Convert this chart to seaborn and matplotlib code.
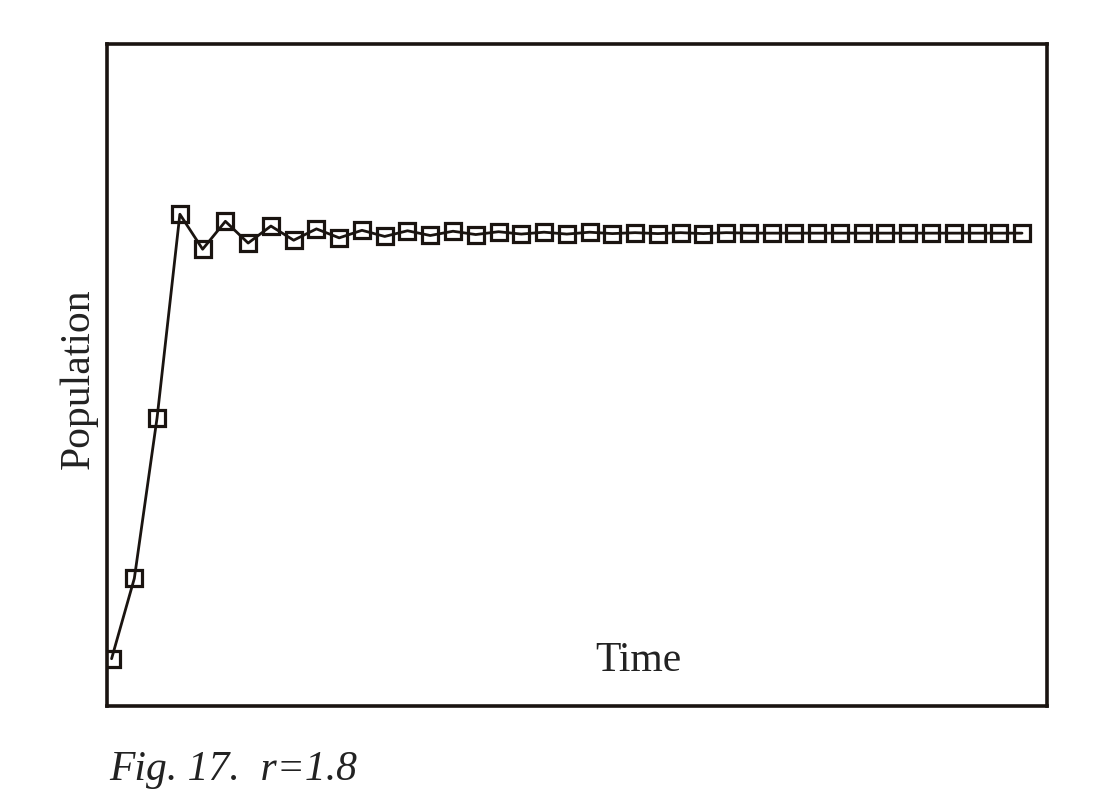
import numpy as np
import pandas as pd
import seaborn as sns
import matplotlib
import matplotlib.pyplot as plt

sns.set_style('white')
plt.rcParams['font.family'] = ['Liberation Serif', 'DejaVu Serif']

# Значения (r = 1.8)
time = list(range(41))
population = [0.10, 0.27, 0.61, 1.04, 0.966, 1.025, 0.979, 1.015, 0.985, 1.009,
              0.990, 1.006, 0.993, 1.005, 0.995, 1.004, 0.997, 1.003, 0.998, 1.002,
              0.998, 1.002, 0.999, 1.001, 0.999, 1.001, 0.999, 1.001, 1.000, 1.000,
              1.000, 1.000, 1.000, 1.000, 1.000, 1.000, 1.000, 1.000, 1.000, 1.000,
              1.000]

df = pd.DataFrame({'Time': time, 'Population': population})

fig = plt.figure(figsize=(11.08, 8.12), dpi=100)
ax = fig.add_axes([0.0966, 0.1293, 0.8484, 0.8153])

sns.lineplot(data=df, x='Time', y='Population', ax=ax, color='#1a1410', linewidth=2.0,
             marker='s', markersize=11.5, markerfacecolor='none',
             markeredgecolor='#1a1410', markeredgewidth=2.3)

ax.set_xlim(-0.2, 41.1)
ax.set_ylim(0, 1.40)
ax.set_xticks([])
ax.set_yticks([])
ax.set_xlabel('')
ax.set_ylabel('')
for s in ax.spines.values():
    s.set_linewidth(2.6)
    s.set_color('#1a1410')

ax.text(0.565, 0.07, 'Time', transform=ax.transAxes, ha='center', va='center',
        fontsize=30, color='#222222')
fig.text(0.071, 0.534, 'Population', rotation=90, ha='center', va='center',
         fontsize=30, color='#222222')
fig.text(0.099, 0.052, 'Fig. 17.  r=1.8', ha='left', va='center',
         fontsize=30, style='italic', color='#222222')

fig.savefig('out.png', dpi=100)
